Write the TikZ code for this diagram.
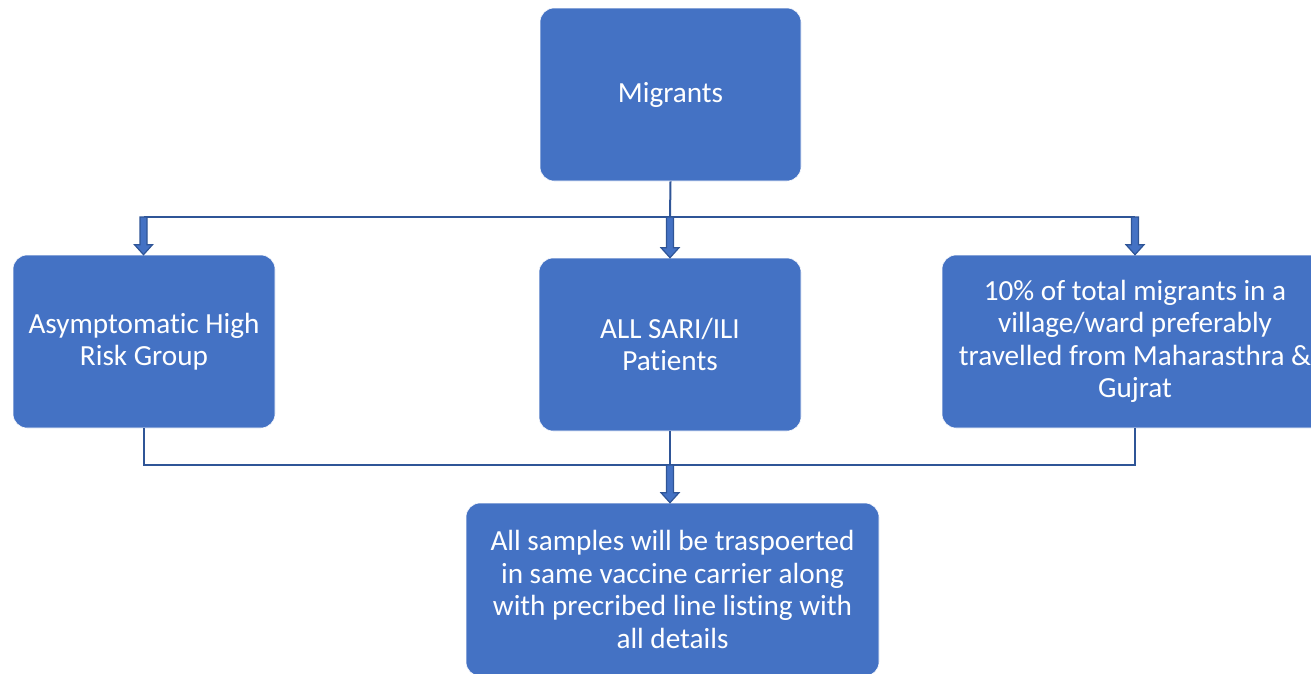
\documentclass[tikz,border=0pt]{standalone}
\usepackage{fontspec}
\setmainfont{Carlito}[Ligatures={NoCommon}]
\usetikzlibrary{calc}
\definecolor{boxblue}{HTML}{4472C4}
\definecolor{lineblue}{HTML}{2F5597}
\tikzset{
  box/.style={rectangle, rounded corners=14pt, fill=boxblue, draw=white, line width=0.6pt,
    text=white, align=center, font=\fontsize{29.2}{32.5}\selectfont, inner sep=0pt},
  conn/.style={draw=lineblue, line width=2pt},
  barrow/.style={draw=lineblue, fill=boxblue, line width=1.2pt, line join=miter},
}
\newcommand\blockarr[2]{%
  \draw[barrow] let \p1=(#1), \p2=(#2) in
    (\x1-3.5pt,\y1) -- (\x1+3.5pt,\y1) -- (\x1+3.5pt,\y2+10pt) -- (\x1+9pt,\y2+10pt)
    -- (\x1,\y2) -- (\x1-9pt,\y2+10pt) -- (\x1-3.5pt,\y2+10pt) -- cycle;}
\begin{document}
\begin{tikzpicture}[x=1pt,y=-1pt]
\useasboundingbox (0,0) rectangle (1311,673);
\begin{scope}
\clip (0,0) rectangle (1311,673);
\node[box, minimum width=261pt, minimum height=173pt] (M) at (670.5,94.5) {Migrants};
\node[box, minimum width=262pt, minimum height=173pt] (L) at (144,341.5) {Asymptomatic High\\Risk Group};
\node[box, minimum width=262pt, minimum height=173pt] (C) at (670,344.5) {ALL SARI/ILI\\Patients};
\node[box, minimum width=386pt, minimum height=173pt] (R) at (1135,341.5) {10\% of total migrants in a\\village/ward preferably\\travelled from Maharasthra \&\\Gujrat};
\node[box, minimum width=413pt, minimum height=173pt] (B) at (672.5,589.5) {All samples will be traspoerted\\in same vaccine carrier along\\with precribed line listing with\\all details};

\coordinate (h1) at (670,217);
\coordinate (h2) at (670,465);
\coordinate (hl) at (143.5,217);
\coordinate (hr) at (1135,217);
\coordinate (ll) at (143.5,465);
\coordinate (lr) at (1135,465);

\draw[conn] (M.south) -- (h1);
\draw[conn] (hl) -- (hr);
\blockarr{hl}{L.north -| hl}
\blockarr{h1}{C.north -| h1}
\blockarr{hr}{R.north -| hr}

\draw[conn] (L.south -| ll) -- (ll) -- (lr) -- (R.south -| lr);
\draw[conn] (C.south) -- (h2);
\blockarr{h2}{B.north -| h2}
\end{scope}
\end{tikzpicture}
\end{document}
